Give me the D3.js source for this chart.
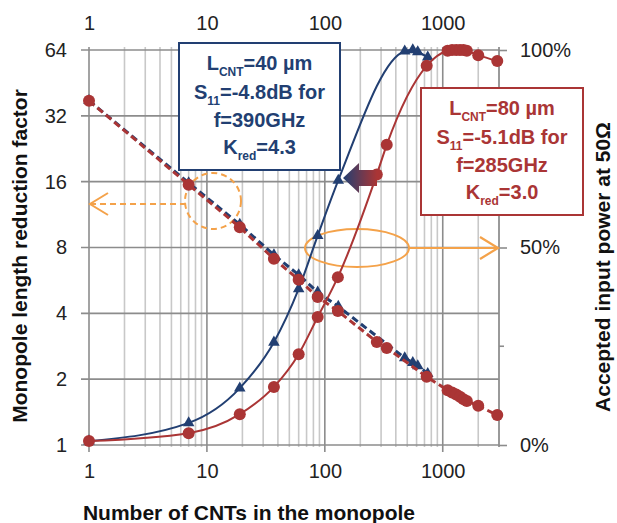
<!DOCTYPE html>
<html>
<head>
<meta charset="utf-8">
<script src="https://cdn.jsdelivr.net/npm/d3@7"></script>
<style>
  body { margin: 0; background: #fff; }
  svg { display: block; font-family: "Liberation Sans", Arial, sans-serif; }
</style>
</head>
<body>
<svg id="viz"></svg>
<script>
// ---------------------------
// Data
// ---------------------------

const xRed  = [1, 7, 19, 37, 60, 87, 129, 276, 335, 731, 1100, 1200, 1300, 1400, 1500, 1600, 2000, 2900];
const kRed  = [37.5, 15.5, 9.9, 7.1, 5.7, 4.75, 4.1, 2.96, 2.78, 2.05, 1.78, 1.74, 1.70, 1.66, 1.62, 1.59, 1.51, 1.37];
const pRed  = [1, 3, 7.8, 14.7, 23, 32.4, 42.5, 68.5, 76, 96, 99.8, 100, 100, 100, 100, 99.8, 98.7, 97.2];

const xBlue = [1, 7, 19, 37, 60, 87, 130, 476, 557, 614, 746];
const kBlue = [37.5, 15.8, 10.2, 7.4, 6.0, 5.0, 4.3, 2.5, 2.38, 2.3, 2.12];
const pBlue = [1, 5.6, 14.4, 26, 39.5, 53, 67, 99.7, 100, 99.5, 98.2];

const xTicks = [1, 10, 100, 1000];
const kTicks = [1, 2, 4, 8, 16, 32, 64];
const pTicks = [0, 50, 100];

const blueBox = [
    [["L", 0], ["CNT", 1], ["=40 µm", 0]],
    [["S", 0], ["11", 1], ["=-4.8dB for", 0]],
    [["f=390GHz", 0]],
    [["K", 0], ["red", 1], ["=4.3", 0]]
];
const redBox = [
    [["L", 0], ["CNT", 1], ["=80 µm", 0]],
    [["S", 0], ["11", 1], ["=-5.1dB for", 0]],
    [["f=285GHz", 0]],
    [["K", 0], ["red", 1], ["=3.0", 0]]
];

// ---------------------------
// Setup
// ---------------------------

const width = 617;
const height = 523;
const BLUE = "#223f72";
const RED = "#aa3535";
const ORANGE = "#f4a24a";

const svg = d3.select("#viz")
    .attr("width", width)
    .attr("height", height)
    .attr("viewBox", `0 0 ${width} ${height}`);

const x = d3.scaleLog().domain([1, 3000]).range([89, 499]);
const yK = d3.scaleLog().base(2).domain([1, 64]).range([445, 50]);
const yP = d3.scaleLinear().domain([0, 100]).range([445, 50]);

// ---------------------------
// Grid
// ---------------------------

const minor = [];
for (let d = 1; d <= 1000; d *= 10) {
    for (let m = 1; m <= 9; m++) {
        if (d * m <= 3000) minor.push(d * m);
    }
}

svg.append("g").selectAll("line")
    .data(minor)
    .join("line")
    .attr("x1", d => x(d)).attr("x2", d => x(d))
    .attr("y1", 47)
    .attr("y2", d => xTicks.includes(d) ? 452 : 447)
    .attr("stroke", d => xTicks.includes(d) ? "#8c8c8c" : "#c8c8c8")
    .attr("stroke-width", 1.6);

svg.append("g").selectAll("line")
    .data(kTicks)
    .join("line")
    .attr("x1", 81).attr("x2", 499)
    .attr("y1", d => yK(d)).attr("y2", d => yK(d))
    .attr("stroke", "#8c8c8c")
    .attr("stroke-width", 1.6);

svg.append("line")
    .attr("x1", x(3000)).attr("x2", x(3000))
    .attr("y1", 47).attr("y2", 447)
    .attr("stroke", "#8c8c8c").attr("stroke-width", 1.6);

// right minor ticks
svg.append("g").selectAll("line")
    .data([25, 75])
    .join("line")
    .attr("x1", 499).attr("x2", 504)
    .attr("y1", d => yP(d)).attr("y2", d => yP(d))
    .attr("stroke", "#8c8c8c").attr("stroke-width", 1.6);

// ---------------------------
// Axes (labels)
// ---------------------------

function styleAxis(g) {
    g.select(".domain").remove();
    g.selectAll("text")
        .attr("font-size", 20)
        .attr("fill", "#222")
        .attr("font-family", "Liberation Sans, Arial, sans-serif");
}

svg.append("g")
    .attr("transform", "translate(0,50)")
    .call(d3.axisTop(x).tickValues(xTicks).tickFormat(d3.format("d")).tickSize(0).tickPadding(20))
    .call(styleAxis);

svg.append("g")
    .attr("transform", "translate(0,445)")
    .call(d3.axisBottom(x).tickValues(xTicks).tickFormat(d3.format("d")).tickSize(0).tickPadding(19))
    .call(styleAxis);

svg.append("g")
    .attr("transform", "translate(89,0)")
    .call(d3.axisLeft(yK).tickValues(kTicks).tickFormat(d3.format("d")).tickSize(0).tickPadding(22))
    .call(styleAxis);

svg.append("g")
    .attr("transform", "translate(499,0)")
    .call(d3.axisRight(yP).tickValues(pTicks).tickFormat(d => d + "%").tickSize(8).tickPadding(13))
    .call(styleAxis)
    .call(g => g.selectAll("line").attr("stroke", "#8c8c8c").attr("stroke-width", 1.6));

// Axis titles
svg.append("text")
    .attr("transform", "translate(27,256) rotate(-90)")
    .attr("text-anchor", "middle")
    .attr("font-size", 21).attr("font-weight", "bold").attr("fill", "#111")
    .text("Monopole length reduction factor");

svg.append("text")
    .attr("transform", "translate(610,267) rotate(-90)")
    .attr("text-anchor", "middle")
    .attr("font-size", 21).attr("font-weight", "bold").attr("fill", "#111")
    .text("Accepted input power at 50Ω");

svg.append("text")
    .attr("x", 249).attr("y", 520)
    .attr("text-anchor", "middle")
    .attr("font-size", 21).attr("font-weight", "bold").attr("fill", "#111")
    .text("Number of CNTs in the monopole");

// ---------------------------
// Orange annotations
// ---------------------------

svg.append("circle")
    .attr("cx", 213).attr("cy", 201).attr("r", 28)
    .attr("fill", "none").attr("stroke", ORANGE)
    .attr("stroke-width", 2).attr("stroke-dasharray", "6,4");

svg.append("line")
    .attr("x1", 186).attr("x2", 91).attr("y1", 204).attr("y2", 204)
    .attr("stroke", ORANGE).attr("stroke-width", 2).attr("stroke-dasharray", "6,4");

svg.append("path")
    .attr("d", "M108,193 L90,204 L108,215")
    .attr("fill", "none").attr("stroke", ORANGE).attr("stroke-width", 2);

svg.append("ellipse")
    .attr("cx", 357).attr("cy", 248).attr("rx", 52).attr("ry", 19)
    .attr("fill", "none").attr("stroke", ORANGE).attr("stroke-width", 2);

svg.append("line")
    .attr("x1", 409).attr("x2", 497).attr("y1", 248).attr("y2", 248)
    .attr("stroke", ORANGE).attr("stroke-width", 2.2);

svg.append("path")
    .attr("d", "M480,237 L498,248 L480,259")
    .attr("fill", "none").attr("stroke", ORANGE).attr("stroke-width", 2.2);

// ---------------------------
// Series
// ---------------------------

const blueK = xBlue.map((d, i) => [d, kBlue[i]]);
const blueP = xBlue.map((d, i) => [d, pBlue[i]]);
const redK = xRed.map((d, i) => [d, kRed[i]]);
const redP = xRed.map((d, i) => [d, pRed[i]]);

const lineK = d3.line().x(d => x(d[0])).y(d => yK(d[1]));
const lineP = d3.line().x(d => x(d[0])).y(d => yP(d[1])).curve(d3.curveMonotoneX);

const tri = d3.symbol().type(d3.symbolTriangle).size(58);

function drawSeries(data, line, yScale, color, dashed, marker) {
    svg.append("path")
        .datum(data)
        .attr("d", line)
        .attr("fill", "none")
        .attr("stroke", color)
        .attr("stroke-width", dashed ? 3 : 2)
        .attr("stroke-dasharray", dashed ? "7,4" : null);

    const g = svg.append("g");
    if (marker === "tri") {
        g.selectAll("path")
            .data(data)
            .join("path")
            .attr("d", tri)
            .attr("transform", d => `translate(${x(d[0])},${yScale(d[1])})`)
            .attr("fill", color);
    } else {
        g.selectAll("circle")
            .data(data)
            .join("circle")
            .attr("cx", d => x(d[0]))
            .attr("cy", d => yScale(d[1]))
            .attr("r", 6)
            .attr("fill", color);
    }
}

drawSeries(blueK, lineK, yK, BLUE, true, "tri");
drawSeries(blueP, lineP, yP, BLUE, false, "tri");
drawSeries(redK, lineK, yK, RED, true, "circle");
drawSeries(redP, lineP, yP, RED, false, "circle");

// ---------------------------
// Gradient arrow
// ---------------------------

const grad = svg.append("defs").append("linearGradient")
    .attr("id", "arrowGrad")
    .attr("gradientUnits", "userSpaceOnUse")
    .attr("x1", 343).attr("x2", 377).attr("y1", 0).attr("y2", 0);
grad.append("stop").attr("offset", "0%").attr("stop-color", BLUE);
grad.append("stop").attr("offset", "100%").attr("stop-color", RED);

svg.append("path")
    .attr("d", "M343,178 L359,163 L359,170 L377,170 L377,186 L359,186 L359,193 Z")
    .attr("fill", "url(#arrowGrad)");

// ---------------------------
// Text boxes
// ---------------------------

function textBox(x0, y0, w, h, color, lines) {
    svg.append("rect")
        .attr("x", x0).attr("y", y0)
        .attr("width", w).attr("height", h)
        .attr("fill", "#fff")
        .attr("stroke", color)
        .attr("stroke-width", 2);

    const offsets = [27, 56, 84, 111];
    lines.forEach((parts, i) => {
        const t = svg.append("text")
            .attr("x", x0 + w / 2)
            .attr("y", y0 + offsets[i])
            .attr("text-anchor", "middle")
            .attr("font-weight", "bold")
            .attr("font-size", 20)
            .attr("fill", color);
        let shifted = false;
        parts.forEach(p => {
            const s = t.append("tspan").text(p[0]);
            if (p[1]) {
                s.attr("font-size", 12).attr("dy", 6);
                shifted = true;
            } else {
                s.attr("font-size", 20).attr("dy", shifted ? -6 : 0);
                shifted = false;
            }
        });
    });
}

textBox(179, 43, 161, 127, BLUE, blueBox);
textBox(421, 88, 162, 127, RED, redBox);
</script>
</body>
</html>
